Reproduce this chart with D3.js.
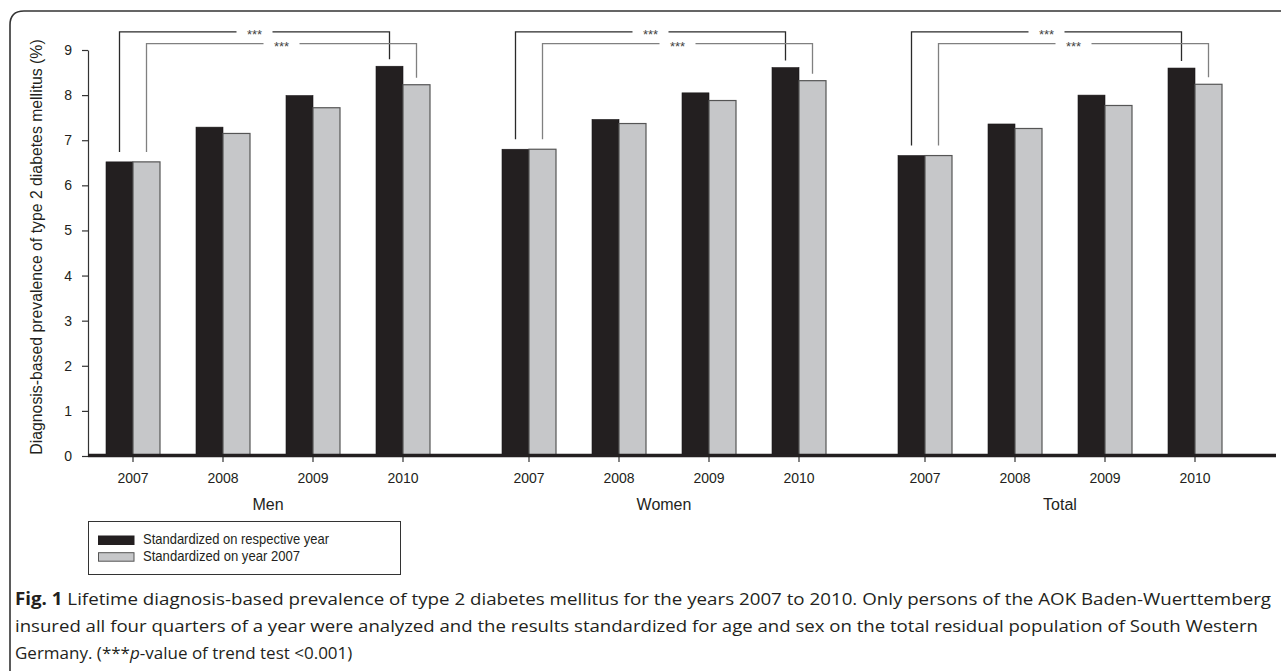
<!DOCTYPE html>
<html>
<head>
<meta charset="utf-8">
<script src="https://cdn.jsdelivr.net/npm/d3@7"></script>
<style>
  html, body { margin: 0; padding: 0; background: #fff; }
  svg { display: block; }
</style>
</head>
<body>
<div id="chart"></div>
<script>
// Data
const groups = ['Men', 'Women', 'Total'];
const years = ['2007', '2008', '2009', '2010'];
const seriesNames = ['Standardized on respective year', 'Standardized on year 2007'];
// one row per group, one value per year (prevalence, %)
const standardizedRespective = [
  [6.52, 7.29, 7.99, 8.64],
  [6.80, 7.46, 8.05, 8.61],
  [6.66, 7.36, 8.00, 8.60]
];
const standardized2007 = [
  [6.52, 7.15, 7.72, 8.23],
  [6.80, 7.37, 7.88, 8.32],
  [6.66, 7.26, 7.77, 8.24]
];
const yTicks = [0, 1, 2, 3, 4, 5, 6, 7, 8, 9];
const sigLabel = '***';

const W = 1281, H = 671;
const INK = '#231f20';
const COLORS = ['#231f20', '#c6c7c9'];

const svg = d3.select('#chart').append('svg')
  .attr('width', W).attr('height', H);

// figure frame (rounded top-left corner, runs off the page)
svg.append('path')
  .attr('d', 'M10,690 L10,25 Q10,11 24,11 L1300,11')
  .attr('fill', 'none').attr('stroke', '#333').attr('stroke-width', 1.6);

// Scales
const y = d3.scaleLinear().domain([0, 9]).range([456, 50]);
const gx = d3.scaleBand().domain(groups).range([88, 1240])
  .paddingInner(36 / 396).paddingOuter(0);
const ix = d3.scaleBand().domain(years).range([0, gx.bandwidth()])
  .paddingInner(0.4).paddingOuter(0.2);
const sx = d3.scaleBand().domain([0, 1]).range([0, ix.bandwidth()]);

// Y axis
const yAxis = svg.append('g')
  .attr('transform', 'translate(88,0)')
  .call(d3.axisLeft(y).tickValues(yTicks).tickFormat(d3.format('d'))
    .tickSize(6).tickSizeOuter(0).tickPadding(10));
yAxis.select('.domain').attr('stroke', '#333').attr('stroke-width', 1.2);
yAxis.selectAll('.tick line').attr('stroke', '#333').attr('stroke-width', 1.2);
yAxis.selectAll('.tick text')
  .attr('font-family', 'Liberation Sans, Arial, sans-serif')
  .attr('font-size', 14).attr('fill', INK);

svg.append('text')
  .attr('transform', 'translate(42,247) rotate(-90)')
  .attr('text-anchor', 'middle')
  .attr('font-family', 'Liberation Sans, Arial, sans-serif')
  .attr('font-size', 15.8).attr('fill', INK)
  .text('Diagnosis-based prevalence of type 2 diabetes mellitus (%)');

// Bars
const bars = [];
groups.forEach((g, gi) => {
  years.forEach((yr, yi) => {
    bars.push({ g, yr, s: 0, v: standardizedRespective[gi][yi] });
    bars.push({ g, yr, s: 1, v: standardized2007[gi][yi] });
  });
});
const barX = d => gx(d.g) + ix(d.yr) + sx(d.s);

svg.append('g').selectAll('rect')
  .data(bars)
  .join('rect')
  .attr('x', barX)
  .attr('y', d => y(d.v))
  .attr('width', sx.bandwidth())
  .attr('height', d => y(0) - y(d.v))
  .attr('fill', d => COLORS[d.s])
  .attr('stroke', d => d.s === 0 ? '#1a1718' : '#555')
  .attr('stroke-width', d => d.s === 0 ? 0.6 : 1.2);

// X axes, one per group
groups.forEach(g => {
  const ax = svg.append('g')
    .attr('transform', `translate(${gx(g)},${y(0)})`)
    .call(d3.axisBottom(ix).tickSize(6).tickSizeOuter(0).tickPadding(11));
  ax.select('.domain').remove();
  ax.selectAll('.tick line').attr('stroke', '#333').attr('stroke-width', 1.2);
  ax.selectAll('.tick text')
    .attr('font-family', 'Liberation Sans, Arial, sans-serif')
    .attr('font-size', 14).attr('fill', INK);

  svg.append('text')
    .attr('x', gx(g) + gx.bandwidth() / 2).attr('y', 510)
    .attr('text-anchor', 'middle')
    .attr('font-family', 'Liberation Sans, Arial, sans-serif')
    .attr('font-size', 16).attr('fill', INK)
    .text(g);
});

// thick baseline
svg.append('line')
  .attr('x1', gx.range()[0]).attr('x2', gx.range()[1] + 36)
  .attr('y1', y(0) - 0.5).attr('y2', y(0) - 0.5)
  .attr('stroke', INK).attr('stroke-width', 3.5);

// Trend-test brackets: 2007 -> 2010 for each series
const levels = [9.4, 9.14];        // bracket heights in data units
const bracketColors = ['#2a2a2a', '#808080'];
groups.forEach((g, gi) => {
  [standardizedRespective, standardized2007].forEach((vals, s) => {
    const x1 = gx(g) + ix(years[0]) + sx(s) + sx.bandwidth() / 2;
    const x2 = gx(g) + ix(years[3]) + sx(s) + sx.bandwidth() / 2;
    const yb = y(levels[s]);
    const y1 = y(vals[gi][0]) - 10;
    const y2 = y(vals[gi][3]) - 7;
    const mid = (x1 + x2) / 2;
    const gap = 18;
    const p = d3.path();
    p.moveTo(x1, y1); p.lineTo(x1, yb); p.lineTo(mid - gap, yb);
    p.moveTo(mid + gap, yb); p.lineTo(x2, yb); p.lineTo(x2, y2);
    svg.append('path')
      .attr('d', p.toString())
      .attr('fill', 'none')
      .attr('stroke', bracketColors[s]).attr('stroke-width', 1.3);
    svg.append('text')
      .attr('x', mid).attr('y', yb + 7.5)
      .attr('text-anchor', 'middle')
      .attr('font-family', 'Liberation Sans, Arial, sans-serif')
      .attr('font-size', 13).attr('fill', '#444')
      .text(sigLabel);
  });
});

// Legend
const lg = svg.append('g');
lg.append('rect')
  .attr('x', 88.5).attr('y', 521.5).attr('width', 312).attr('height', 53)
  .attr('fill', '#fff').attr('stroke', '#333').attr('stroke-width', 1);
const legendWidths = [186, 157];
seriesNames.forEach((name, i) => {
  const ty = 536 + i * 16.7;
  lg.append('rect')
    .attr('x', 98.5).attr('y', ty).attr('width', 35.5).attr('height', 8.5)
    .attr('fill', COLORS[i])
    .attr('stroke', i === 0 ? INK : '#555').attr('stroke-width', 1);
  lg.append('text')
    .attr('x', 143).attr('y', ty + 8)
    .attr('font-family', 'Liberation Sans Narrow, Arial Narrow, Liberation Sans, sans-serif')
    .attr('font-size', 15).attr('fill', INK)
    .attr('textLength', legendWidths[i]).attr('lengthAdjust', 'spacingAndGlyphs')
    .text(name);
});

// Caption
const captionLines = [
  ['Fig. 1', ' Lifetime diagnosis-based prevalence of type 2 diabetes mellitus for the years 2007 to 2010. Only persons of the AOK Baden-Wuerttemberg'],
  ['', 'insured all four quarters of a year were analyzed and the results standardized for age and sex on the total residual population of South Western'],
  ['', 'Germany. (***', 'p', '-value of trend test <0.001)']
];
const captionWidths = [1256, 1243, null];
captionLines.forEach((parts, i) => {
  const t = svg.append('text')
    .attr('x', 15).attr('y', 605 + i * 27)
    .attr('font-family', 'Open Sans, Noto Sans, sans-serif')
    .attr('font-size', 17).attr('fill', INK);
  if (captionWidths[i]) t.attr('textLength', captionWidths[i]).attr('lengthAdjust', 'spacingAndGlyphs');
  if (parts[0]) t.append('tspan').attr('font-weight', 'bold').text(parts[0]);
  t.append('tspan').text(parts[1]);
  if (parts[2]) {
    t.append('tspan').attr('font-style', 'italic').text(parts[2]);
    t.append('tspan').text(parts[3]);
  }
});
</script>
</body>
</html>
